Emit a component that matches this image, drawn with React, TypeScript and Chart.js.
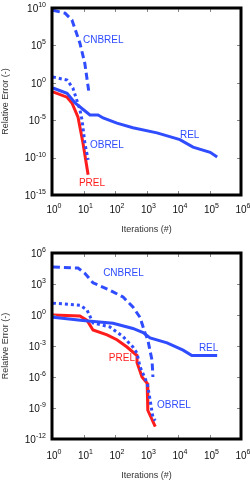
import React, { useEffect, useRef } from "react";
import { Chart, registerables } from "chart.js";
Chart.register(...registerables);

const BLUE = "#2f4cff";
const RED = "#ff1c1c";
const FONT = '"Liberation Sans", Arial, sans-serif';

// ---------- Top panel data ----------
const topCnbX = [1.07, 2.6, 4.3, 7.7, 11, 15];
const topCnbY = [5e9, 2e9, 2.5e8, 2e5, 4e2, 4e-2];
const topObX = [1.07, 3, 4.6, 7.7, 9, 11, 14];
const topObY = [6, 2.3, 2e-1, 2.5e-4, 1e-5, 1e-8, 5e-11];
const topRelX = [1.07, 3, 5.4, 10, 16, 29, 42, 115, 370, 2150, 11500, 30000, 105000, 175000];
const topRelY = [2e-1, 4e-2, 2e-3, 2.5e-4, 5e-5, 5e-5, 2e-5, 4e-6, 1e-6, 2e-7, 2.5e-8, 2.5e-9, 5e-10, 1.2e-10];
const topPrelX = [1.07, 3, 4.3, 6.7, 9.6, 14];
const topPrelY = [6e-2, 1.2e-2, 2e-3, 2.5e-5, 1e-8, 5e-13];
const topYTicks = [1e10, 1e5, 1, 1e-5, 1e-10, 1e-15];
const topYExp = ["10", "5", "0", "-5", "-10", "-15"];

// ---------- Bottom panel data ----------
const botCnbX = [1.07, 6.7, 11, 20, 69, 180, 370, 620, 890, 1100, 1500, 1600];
const botCnbY = [4.4e4, 3.5e4, 1.1e4, 1.3e3, 2.5e2, 55, 6, 0.6, 2e-2, 4e-3, 4e-5, 1e-6];
const botObX = [1.07, 7.7, 13, 20, 69, 180, 370, 500, 620, 1050, 1300, 1600, 1900];
const botObY = [14, 9, 3, 1.7e-1, 7e-2, 8e-3, 8e-4, 2e-4, 1e-5, 2.5e-7, 6e-9, 1.2e-10, 6e-11];
const botRelX = [1.07, 9.5, 87, 370, 780, 1300, 4500, 14500, 27500, 175000];
const botRelY = [6e-1, 3e-1, 1.6e-1, 5e-2, 2e-2, 6e-3, 2e-3, 4e-4, 1.2e-4, 1.2e-4];
const botPrelX = [1.07, 7.7, 13, 20, 56, 115, 240, 500, 500, 720, 1050, 1100, 1900];
const botPrelY = [1, 8e-1, 3e-1, 3.5e-2, 1.2e-2, 4e-3, 8e-4, 1.2e-4, 2.5e-5, 1e-6, 2.5e-7, 6e-10, 1.6e-11];
const botYTicks = [1e6, 1e3, 1, 1e-3, 1e-6, 1e-9, 1e-12];
const botYExp = ["6", "3", "0", "-3", "-6", "-9", "-12"];

// ---------- Shared ----------
const xTicks = [1, 10, 100, 1e3, 1e4, 1e5, 1e6];
const xExp = ["0", "1", "2", "3", "4", "5", "6"];
const xTitle = "Iterations (#)";
const yTitle = "Relative Error (-)";
const seriesNames = ["CNBREL", "OBREL", "REL", "PREL"];

type Lbl = { text: string; x: number; y: number; color: string; align: CanvasTextAlign };

const topLabels: Lbl[] = [
  { text: "CNBREL", x: 9.6, y: 5e5, color: BLUE, align: "left" },
  { text: "OBREL", x: 16, y: 5e-9, color: BLUE, align: "left" },
  { text: "REL", x: 11500, y: 1e-7, color: BLUE, align: "left" },
  { text: "PREL", x: 18.6, y: 4e-14, color: RED, align: "center" },
];
const botLabels: Lbl[] = [
  { text: "CNBREL", x: 42, y: 1.1e4, color: BLUE, align: "left" },
  { text: "OBREL", x: 2150, y: 2e-9, color: BLUE, align: "left" },
  { text: "REL", x: 46000, y: 6e-4, color: BLUE, align: "left" },
  { text: "PREL", x: 166, y: 7e-5, color: RED, align: "center" },
];

function pts(xs: number[], ys: number[]) {
  return xs.map((x, i) => ({ x, y: ys[i] }));
}

type PanelProps = {
  top: number;
  height: number;
  padding: { left: number; right: number; top: number; bottom: number };
  yMin: number;
  yMax: number;
  yTicks: number[];
  yExp: string[];
  series: { x: number[]; y: number[] }[];
  labels: Lbl[];
  xLabelOffset: number;
  xTitleY: number;
};

function Panel(p: PanelProps) {
  const ref = useRef<HTMLCanvasElement>(null);
  useEffect(() => {
    if (!ref.current) return;
    const styles = [
      { color: BLUE, dash: [7, 4] },
      { color: BLUE, dash: [3, 3] },
      { color: BLUE, dash: [] as number[] },
      { color: RED, dash: [] as number[] },
    ];
    const frame = {
      id: "frame",
      afterDraw(chart: any) {
        const ctx: CanvasRenderingContext2D = chart.ctx;
        const a = chart.chartArea;
        const xs = chart.scales.x;
        const ys = chart.scales.y;
        ctx.save();
        // series labels
        ctx.font = `10px ${FONT}`;
        ctx.textBaseline = "middle";
        p.labels.forEach((l) => {
          ctx.fillStyle = l.color;
          ctx.textAlign = l.align;
          ctx.fillText(l.text, xs.getPixelForValue(l.x), ys.getPixelForValue(l.y));
        });
        // inward ticks
        ctx.strokeStyle = "#888";
        ctx.lineWidth = 1;
        ctx.beginPath();
        xTicks.forEach((v) => {
          const x = Math.round(xs.getPixelForValue(v)) + 0.5;
          ctx.moveTo(x, a.bottom);
          ctx.lineTo(x, a.bottom - 4);
          ctx.moveTo(x, a.top);
          ctx.lineTo(x, a.top + 4);
        });
        p.yTicks.forEach((v) => {
          const y = Math.round(ys.getPixelForValue(v)) + 0.5;
          ctx.moveTo(a.left, y);
          ctx.lineTo(a.left + 4, y);
          ctx.moveTo(a.right, y);
          ctx.lineTo(a.right - 4, y);
        });
        ctx.stroke();
        // border
        ctx.strokeStyle = "#000";
        ctx.lineWidth = 3;
        ctx.strokeRect(a.left, a.top, a.right - a.left, a.bottom - a.top);
        // tick labels
        ctx.fillStyle = "#111";
        ctx.textBaseline = "middle";
        xTicks.forEach((v, i) => {
          const x = xs.getPixelForValue(v);
          const y = a.bottom + p.xLabelOffset;
          ctx.font = `10px ${FONT}`;
          ctx.textAlign = "center";
          ctx.fillText("10", x, y);
          const bw = ctx.measureText("10").width;
          ctx.font = `7px ${FONT}`;
          ctx.textAlign = "left";
          ctx.fillText(xExp[i], x + bw / 2, y - 4);
        });
        p.yTicks.forEach((v, i) => {
          const y = ys.getPixelForValue(v) + 1;
          ctx.font = `7px ${FONT}`;
          const ew = ctx.measureText(p.yExp[i]).width;
          const right = 46;
          ctx.textAlign = "right";
          ctx.fillText(p.yExp[i], right, y - 4);
          ctx.font = `10px ${FONT}`;
          ctx.fillText("10", right - ew, y);
        });
        // axis titles
        ctx.fillStyle = "#333";
        ctx.font = `9px ${FONT}`;
        ctx.textAlign = "center";
        ctx.fillText(xTitle, (a.left + a.right) / 2, p.xTitleY);
        ctx.translate(6, (a.top + a.bottom) / 2);
        ctx.rotate(-Math.PI / 2);
        ctx.fillText(yTitle, 0, 0);
        ctx.restore();
      },
    };
    const chart = new Chart(ref.current, {
      type: "line",
      data: {
        datasets: p.series.map((s, i) => ({
          label: seriesNames[i],
          data: pts(s.x, s.y),
          borderColor: styles[i].color,
          borderWidth: 3,
          borderDash: styles[i].dash,
          borderCapStyle: "butt",
          pointRadius: 0,
          fill: false,
          tension: 0,
        })),
      },
      options: {
        animation: false,
        responsive: false,
        maintainAspectRatio: false,
        layout: { padding: p.padding },
        plugins: { legend: { display: false }, tooltip: { enabled: false } },
        scales: {
          x: { type: "logarithmic", min: 1, max: 1e6, display: false },
          y: { type: "logarithmic", min: p.yMin, max: p.yMax, display: false },
        },
      },
      plugins: [frame],
    } as any);
    return () => chart.destroy();
  }, []);
  return (
    <canvas
      ref={ref}
      width={250}
      height={p.height}
      style={{ position: "absolute", left: 0, top: p.top, width: 250, height: p.height }}
    />
  );
}

export default function App() {
  return (
    <div style={{ position: "absolute", left: 0, top: 0, width: 250, height: 482, background: "#fff" }}>
      <Panel
        top={0}
        height={241}
        padding={{ left: 52, right: 9, top: 8, bottom: 46 }}
        yMin={1e-15}
        yMax={1e10}
        yTicks={topYTicks}
        yExp={topYExp}
        series={[
          { x: topCnbX, y: topCnbY },
          { x: topObX, y: topObY },
          { x: topRelX, y: topRelY },
          { x: topPrelX, y: topPrelY },
        ]}
        labels={topLabels}
        xLabelOffset={15}
        xTitleY={230}
      />
      <Panel
        top={241}
        height={241}
        padding={{ left: 52, right: 9, top: 12, bottom: 43 }}
        yMin={1e-12}
        yMax={1e6}
        yTicks={botYTicks}
        yExp={botYExp}
        series={[
          { x: botCnbX, y: botCnbY },
          { x: botObX, y: botObY },
          { x: botRelX, y: botRelY },
          { x: botPrelX, y: botPrelY },
        ]}
        labels={botLabels}
        xLabelOffset={17}
        xTitleY={235}
      />
    </div>
  );
}
